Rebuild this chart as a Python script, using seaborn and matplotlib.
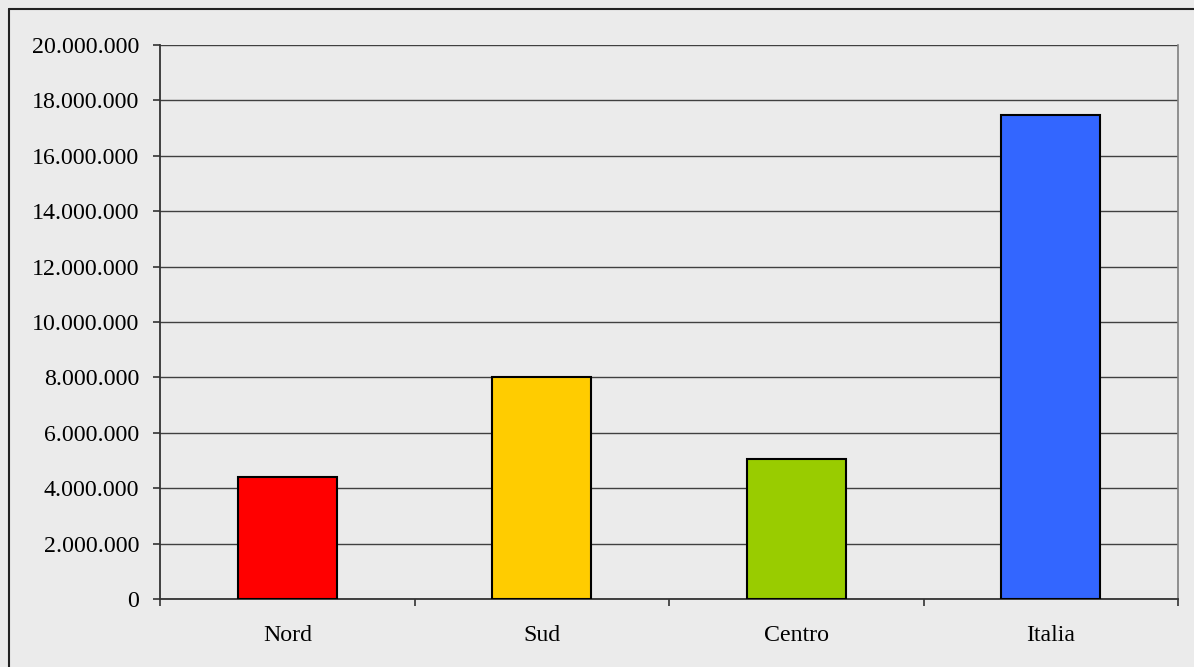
import matplotlib
matplotlib.use("Agg")
import matplotlib.pyplot as plt
import seaborn as sns
import pandas as pd
from matplotlib.ticker import FuncFormatter, MultipleLocator
from matplotlib.lines import Line2D

categories = ["Nord", "Sud", "Centro", "Italia"]
values = [4400000, 8000000, 5050000, 17480000]
colors = ["#ff0000", "#ffcc00", "#99cc00", "#3366ff"]

df = pd.DataFrame({"area": categories, "valore": values})

sns.set_theme(style="white")
plt.rcParams["font.family"] = ["Liberation Serif", "DejaVu Serif"]

bg = "#ebebeb"
fig = plt.figure(figsize=(11.94, 6.67), dpi=100, facecolor=bg)
ax = fig.add_axes([160 / 1194, 1 - 599 / 667, (1178 - 160) / 1194, (599 - 45) / 667])
ax.set_facecolor(bg)

sns.barplot(data=df, x="area", y="valore", hue="area", palette=colors,
            legend=False, width=0.39, edgecolor="black", linewidth=1.5,
            saturation=1, ax=ax, zorder=3)

ax.set_ylim(0, 20000000)
ax.set_xlim(-0.5, 3.5)
ax.yaxis.set_major_locator(MultipleLocator(2000000))
ax.yaxis.set_major_formatter(FuncFormatter(lambda v, p: f"{int(v):,}".replace(",", ".")))
ax.grid(axis="y", color="#404040", linewidth=1.0, zorder=0)
ax.set_axisbelow(True)
ax.set_xlabel("")
ax.set_ylabel("")

ax.set_xticks([0, 1, 2, 3])
ax.set_xticklabels(categories)
ax.set_xticks([-0.5, 0.5, 1.5, 2.5, 3.5], minor=True)
ax.tick_params(axis="x", which="major", length=0, pad=19, labelsize=17.2, colors="black")
ax.tick_params(axis="x", which="minor", length=5, width=1.2, direction="out", color="#333333", bottom=True)
ax.tick_params(axis="y", which="major", length=5, width=1.2, direction="out", pad=10,
               labelsize=17.2, colors="black", left=True)
ax.tick_params(axis="y", colors="#333333", labelcolor="black")

for s in ["left", "bottom"]:
    ax.spines[s].set_color("#333333")
    ax.spines[s].set_linewidth(1.3)
ax.spines["top"].set_visible(False)
ax.spines["right"].set_color("#808080")
ax.spines["right"].set_linewidth(1.2)

# chart area border (left and top edges visible)
fig.add_artist(Line2D([9 / 1194, 9 / 1194], [0, 1 - 9 / 667], transform=fig.transFigure,
                      color="#222222", linewidth=1.5))
fig.add_artist(Line2D([9 / 1194, 1], [1 - 9 / 667, 1 - 9 / 667], transform=fig.transFigure,
                      color="#222222", linewidth=1.5))

fig.savefig("out.png", dpi=100, facecolor=bg)
